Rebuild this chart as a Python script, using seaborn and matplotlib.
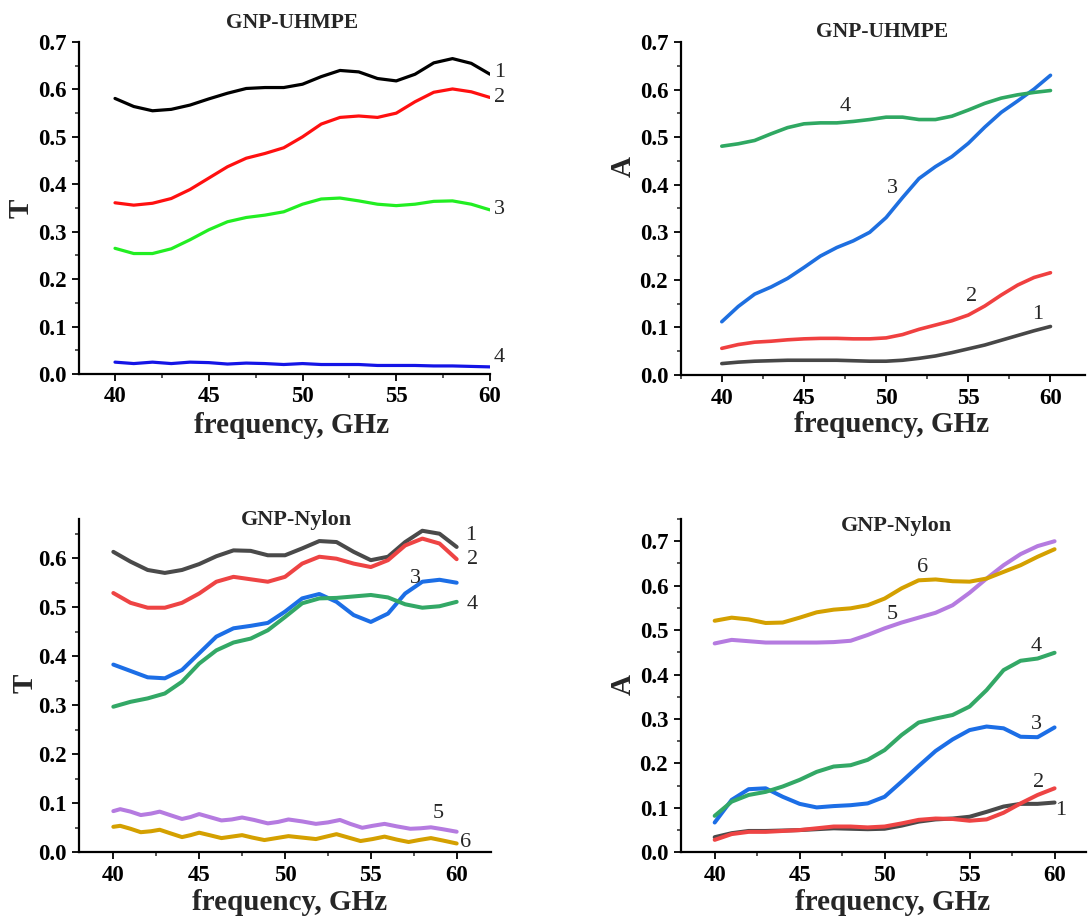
import matplotlib

matplotlib.use("Agg")
import matplotlib.pyplot as plt
import seaborn as sns
from matplotlib.ticker import MultipleLocator, FormatStrFormatter

FIG_W, FIG_H = 1088, 918

freq = list(range(40, 61))

# GNP-UHMPE, transmission
uh_t1 = [0.581, 0.564, 0.555, 0.558, 0.567, 0.580, 0.592, 0.602, 0.604, 0.604, 0.611,
         0.627, 0.640, 0.637, 0.623, 0.618, 0.632, 0.656, 0.665, 0.655, 0.632]
uh_t2 = [0.361, 0.356, 0.360, 0.370, 0.389, 0.413, 0.437, 0.455, 0.465, 0.477, 0.500,
         0.527, 0.541, 0.544, 0.541, 0.550, 0.574, 0.594, 0.601, 0.595, 0.583]
uh_t3 = [0.265, 0.254, 0.254, 0.264, 0.283, 0.304, 0.321, 0.330, 0.335, 0.342, 0.358,
         0.369, 0.371, 0.365, 0.358, 0.355, 0.358, 0.364, 0.365, 0.358, 0.346]
uh_t4 = [0.025, 0.022, 0.025, 0.022, 0.025, 0.024, 0.021, 0.023, 0.022, 0.020, 0.022,
         0.020, 0.020, 0.020, 0.018, 0.018, 0.018, 0.017, 0.017, 0.016, 0.015]

# GNP-UHMPE, absorption
uh_a1 = [0.024, 0.027, 0.029, 0.030, 0.031, 0.031, 0.031, 0.031, 0.030, 0.029, 0.029,
         0.031, 0.035, 0.040, 0.047, 0.055, 0.063, 0.073, 0.083, 0.093, 0.102]
uh_a2 = [0.056, 0.064, 0.069, 0.071, 0.074, 0.076, 0.077, 0.077, 0.076, 0.076, 0.078,
         0.085, 0.096, 0.105, 0.114, 0.126, 0.145, 0.168, 0.189, 0.205, 0.215]
uh_a3 = [0.112, 0.144, 0.170, 0.185, 0.203, 0.226, 0.250, 0.268, 0.282, 0.300, 0.331,
         0.373, 0.413, 0.438, 0.459, 0.487, 0.521, 0.552, 0.576, 0.601, 0.630]
uh_a4 = [0.481, 0.486, 0.493, 0.507, 0.520, 0.528, 0.530, 0.530, 0.533, 0.537, 0.542,
         0.542, 0.537, 0.537, 0.544, 0.557, 0.571, 0.582, 0.589, 0.594, 0.598]

# GNP-Nylon, transmission
ny_t1 = [0.613, 0.593, 0.576, 0.570, 0.576, 0.588, 0.604, 0.616, 0.615, 0.606, 0.606,
         0.620, 0.635, 0.633, 0.613, 0.596, 0.603, 0.633, 0.656, 0.650, 0.623]
ny_t2 = [0.529, 0.509, 0.499, 0.499, 0.509, 0.528, 0.552, 0.562, 0.557, 0.552, 0.562,
         0.589, 0.603, 0.599, 0.589, 0.582, 0.596, 0.626, 0.640, 0.630, 0.598]
ny_t3 = [0.383, 0.370, 0.357, 0.355, 0.372, 0.406, 0.440, 0.457, 0.462, 0.468, 0.491,
         0.518, 0.527, 0.511, 0.484, 0.470, 0.487, 0.528, 0.552, 0.556, 0.550]
ny_t4 = [0.297, 0.307, 0.314, 0.324, 0.348, 0.385, 0.412, 0.428, 0.436, 0.453, 0.480,
         0.508, 0.518, 0.519, 0.522, 0.525, 0.520, 0.506, 0.499, 0.502, 0.511]

freq_t5 = [40.0, 40.4, 41.0, 41.6, 42.2, 42.7, 43.3, 44.0, 44.5, 45.0, 45.6, 46.3, 46.9,
           47.5, 48.2, 49.0, 49.6, 50.2, 51.0, 51.8, 52.5, 53.2, 53.8, 54.5, 55.1, 55.8,
           56.5, 57.3, 57.9, 58.5, 59.2, 60.0]
ny_t5 = [0.084, 0.088, 0.083, 0.076, 0.079, 0.083, 0.076, 0.068, 0.072, 0.078, 0.072,
         0.065, 0.067, 0.071, 0.066, 0.059, 0.062, 0.067, 0.063, 0.058, 0.061, 0.066,
         0.058, 0.050, 0.054, 0.058, 0.053, 0.048, 0.049, 0.051, 0.047, 0.042]
freq_t6 = [40.0, 40.4, 41.0, 41.6, 42.2, 42.7, 43.3, 44.0, 44.5, 45.0, 45.6, 46.3, 46.9,
           47.5, 48.1, 48.8, 49.5, 50.2, 51.0, 51.8, 52.4, 53.0, 53.7, 54.4, 55.1, 55.8,
           56.5, 57.2, 57.8, 58.5, 59.2, 60.0]
ny_t6 = [0.052, 0.054, 0.048, 0.041, 0.043, 0.046, 0.039, 0.031, 0.035, 0.040, 0.035,
         0.029, 0.032, 0.035, 0.030, 0.025, 0.029, 0.033, 0.030, 0.027, 0.032, 0.037,
         0.030, 0.023, 0.027, 0.032, 0.026, 0.021, 0.025, 0.029, 0.024, 0.018]

# GNP-Nylon, absorption
ny_a1 = [0.034, 0.043, 0.048, 0.048, 0.049, 0.050, 0.052, 0.054, 0.053, 0.052, 0.053,
         0.060, 0.069, 0.074, 0.076, 0.080, 0.091, 0.103, 0.109, 0.109, 0.112]
ny_a2 = [0.028, 0.041, 0.046, 0.046, 0.048, 0.050, 0.054, 0.058, 0.058, 0.056, 0.058,
         0.065, 0.073, 0.076, 0.075, 0.071, 0.074, 0.089, 0.110, 0.129, 0.144]
ny_a3 = [0.067, 0.118, 0.142, 0.144, 0.125, 0.109, 0.101, 0.104, 0.106, 0.110, 0.125,
         0.159, 0.194, 0.228, 0.254, 0.275, 0.283, 0.279, 0.260, 0.259, 0.281]
ny_a4 = [0.082, 0.114, 0.129, 0.136, 0.148, 0.163, 0.181, 0.193, 0.196, 0.208, 0.230,
         0.264, 0.292, 0.301, 0.309, 0.328, 0.365, 0.410, 0.431, 0.436, 0.449]
ny_a5 = [0.470, 0.478, 0.475, 0.472, 0.472, 0.472, 0.472, 0.473, 0.476, 0.489, 0.504,
         0.517, 0.528, 0.539, 0.556, 0.584, 0.616, 0.646, 0.671, 0.689, 0.700]
ny_a6 = [0.521, 0.528, 0.524, 0.516, 0.517, 0.528, 0.540, 0.546, 0.549, 0.556, 0.571,
         0.594, 0.612, 0.614, 0.610, 0.609, 0.616, 0.631, 0.646, 0.665, 0.682]

sns.set_style("ticks")
plt.rcParams["font.family"] = ["Liberation Serif", "DejaVu Serif"]
plt.rcParams["font.weight"] = "bold"

fig = plt.figure(figsize=(FIG_W / 100, FIG_H / 100), dpi=100)


def add_axes(left, top, right, bottom):
    return fig.add_axes([left / FIG_W, 1 - bottom / FIG_H,
                         (right - left) / FIG_W, (bottom - top) / FIG_H])


def style_axis(ax, xlim, ylim, ylabel, xlab_pos, ylab_pos):
    ax.set_xlim(*xlim)
    ax.set_ylim(*ylim)
    ax.xaxis.set_major_locator(MultipleLocator(5))
    ax.xaxis.set_minor_locator(MultipleLocator(2.5))
    ax.yaxis.set_major_locator(MultipleLocator(0.1))
    ax.yaxis.set_minor_locator(MultipleLocator(0.05))
    ax.yaxis.set_major_formatter(FormatStrFormatter("%.1f"))
    ax.tick_params(which="major", direction="out", length=5, width=1.3,
                   labelsize=16.5, colors="black", pad=4)
    ax.tick_params(which="minor", direction="out", length=3, width=1.1)
    for label in ax.get_xticklabels() + ax.get_yticklabels():
        label.set_fontweight("bold")
    sns.despine(ax=ax)
    for side in ("left", "bottom"):
        ax.spines[side].set_linewidth(1.6)
        ax.spines[side].set_color("black")
    ax.set_xlabel("frequency, GHz", fontsize=21, fontweight="bold", va="center")
    ax.set_ylabel(ylabel, fontsize=21, fontweight="bold", va="center")
    ax.xaxis.set_label_coords(*xlab_pos)
    ax.yaxis.set_label_coords(*ylab_pos)
    ax.grid(False)


def draw(ax, x, y, color, lw):
    sns.lineplot(x=x, y=y, ax=ax, color=color, linewidth=lw, estimator=None,
                 sort=False, solid_capstyle="round", solid_joinstyle="round")


def tag(ax, x, y, text):
    ax.text(x, y, text, fontsize=16, fontweight="normal", ha="center", va="center")


# top-left: GNP-UHMPE transmission
ax1 = add_axes(79, 42, 490, 374)
draw(ax1, freq, uh_t1, "#000000", 2.3)
draw(ax1, freq, uh_t2, "#ff1010", 2.3)
draw(ax1, freq, uh_t3, "#22ee22", 2.3)
draw(ax1, freq, uh_t4, "#1414e6", 2.3)
style_axis(ax1, (38.08, 60), (0, 0.7), "T", (0.518, -0.154), (-0.141, 0.5))
for x, y, t in [(60.5, 0.635, "1"), (60.5, 0.584, "2"), (60.5, 0.346, "3"), (60.5, 0.034, "4")]:
    tag(ax1, x, y, t)

# top-right: GNP-UHMPE absorption
ax2 = add_axes(680.7, 42, 1085, 375)
draw(ax2, freq, uh_a1, "#474747", 2.6)
draw(ax2, freq, uh_a2, "#f04040", 2.6)
draw(ax2, freq, uh_a3, "#1e6fe0", 2.6)
draw(ax2, freq, uh_a4, "#2fa862", 2.6)
style_axis(ax2, (37.5, 62.1), (0, 0.7), "A", (0.522, -0.150), (-0.143, 0.625))
for x, y, t in [(47.5, 0.565, "4"), (50.4, 0.393, "3"), (55.2, 0.166, "2"), (59.2, 0.128, "1")]:
    tag(ax2, x, y, t)

# bottom-left: GNP-Nylon transmission
ax3 = add_axes(79, 519, 491, 852.3)
draw(ax3, freq, ny_t1, "#4a4a4a", 2.9)
draw(ax3, freq, ny_t2, "#ee4444", 2.9)
draw(ax3, freq, ny_t3, "#1c6ee6", 2.9)
draw(ax3, freq, ny_t4, "#33a866", 2.9)
draw(ax3, freq_t5, ny_t5, "#b57be0", 2.9)
draw(ax3, freq_t6, ny_t6, "#d4a000", 2.9)
style_axis(ax3, (38.0, 62.0), (0, 0.68), "T", (0.512, -0.152), (-0.131, 0.508))
for x, y, t in [(60.8, 0.647, "1"), (60.9, 0.598, "2"), (57.6, 0.559, "3"),
                (60.9, 0.506, "4"), (58.95, 0.080, "5"), (60.5, 0.021, "6")]:
    tag(ax3, x, y, t)

# bottom-right: GNP-Nylon absorption
ax4 = add_axes(680.7, 519, 1086, 852.3)
draw(ax4, freq, ny_a1, "#4a4a4a", 2.9)
draw(ax4, freq, ny_a2, "#ee4444", 2.9)
draw(ax4, freq, ny_a3, "#1c6ee6", 2.9)
draw(ax4, freq, ny_a4, "#33a866", 2.9)
draw(ax4, freq, ny_a5, "#b57be0", 2.9)
draw(ax4, freq, ny_a6, "#d4a000", 2.9)
style_axis(ax4, (38.0, 61.85), (0, 0.75), "A", (0.522, -0.152), (-0.142, 0.502))
for x, y, t in [(52.26, 0.641, "6"), (50.44, 0.534, "5"), (58.94, 0.464, "4"),
                (58.94, 0.287, "3"), (59.06, 0.158, "2"), (60.35, 0.095, "1")]:
    tag(ax4, x, y, t)

for px, py, title, size in [(292, 23, "GNP-UHMPE", 15.5), (882, 32, "GNP-UHMPE", 15.5),
                            (296, 520, "GNP-Nylon", 16), (896, 526, "GNP-Nylon", 16)]:
    fig.text(px / FIG_W, 1 - py / FIG_H, title, fontsize=size, fontweight="bold",
             ha="center", va="center")

fig.savefig("out.png", dpi=100)
